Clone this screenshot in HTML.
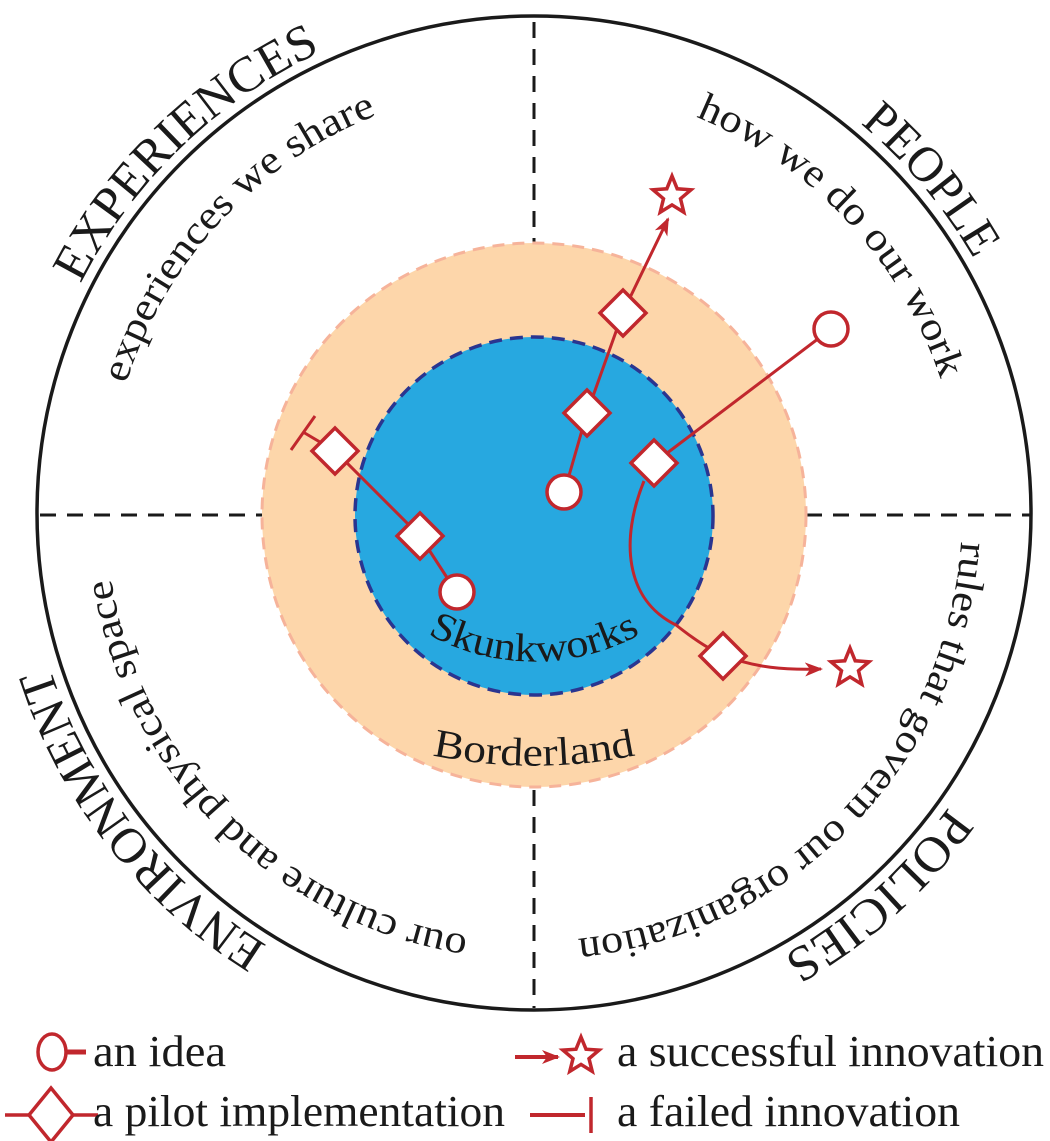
<!DOCTYPE html>
<html><head><meta charset="utf-8"><style>
html,body{margin:0;padding:0;background:#fff;}
svg{display:block;}
text{font-family:"Liberation Serif",serif;fill:#1a1a1a;}
</style></head><body>
<svg width="1050" height="1141" viewBox="0 0 1050 1141" xmlns="http://www.w3.org/2000/svg">
<defs>
<marker id="ah" markerWidth="18" markerHeight="14" refX="16" refY="7" orient="auto" markerUnits="userSpaceOnUse">
<path d="M0,0 L18,7 L0,14 L5,7 Z" fill="#C1272D"/>
</marker>
<path id="pExp" d="M41.1,635.9 A508,508 0 0 1 674.0,24.7"/>
<path id="pExpS" d="M124.7,638.1 A428,428 0 0 1 630.3,96.0"/>
<path id="pPeo" d="M445.8,12.7 A508,508 0 0 1 1011.4,686.7"/>
<path id="pPeoS" d="M437.7,96.0 A428,428 0 0 1 943.3,638.1"/>
<path id="pPolS" d="M945.4,395.0 A428,428 0 0 1 430.5,928.3"/>
<path id="pPol" d="M1030.9,407.4 A508,508 0 0 1 377.0,996.2"/>
<path id="pEnv" d="M604.7,1016.1 A508,508 0 0 1 63.0,322.7"/>
<path id="pEnvS" d="M644.8,926.4 A428,428 0 0 1 120.6,402.2"/>
<path id="pSk" d="M354,568 A220,220 0 0 0 714,568"/>
<path id="pBo" d="M323,719 A500,500 0 0 0 745,719"/>
</defs>

<circle cx="534" cy="513" r="497" fill="none" stroke="#1a1a1a" stroke-width="3.5"/>
<g stroke="#1a1a1a" stroke-width="3" stroke-dasharray="16,11">
<line x1="534" y1="22" x2="534" y2="243"/>
<line x1="534" y1="790" x2="534" y2="1008"/>
<line x1="40" y1="515" x2="262" y2="515"/>
<line x1="806" y1="515" x2="1030" y2="515"/>
</g>

<circle cx="534" cy="515" r="272" fill="#FDD6AA" stroke="#F6B39A" stroke-width="3" stroke-dasharray="12,8"/>
<circle cx="534" cy="516" r="179" fill="#27A8E0" stroke="#2A3590" stroke-width="3.5" stroke-dasharray="13,8"/>

<text font-size="50"><textPath href="#pExp" startOffset="50%" text-anchor="middle" textLength="340" lengthAdjust="spacingAndGlyphs">EXPERIENCES</textPath></text>
<text font-size="40"><textPath href="#pExpS" startOffset="50%" text-anchor="middle" textLength="380" lengthAdjust="spacingAndGlyphs">experiences we share</textPath></text>
<text font-size="50"><textPath href="#pPeo" startOffset="50%" text-anchor="middle" textLength="178" lengthAdjust="spacingAndGlyphs">PEOPLE</textPath></text>
<text font-size="40"><textPath href="#pPeoS" startOffset="50%" text-anchor="middle" textLength="370" lengthAdjust="spacingAndGlyphs">how we do our work</textPath></text>
<text font-size="40"><textPath href="#pPolS" startOffset="50%" text-anchor="middle" textLength="600" lengthAdjust="spacingAndGlyphs">rules that govern our organization</textPath></text>
<text font-size="50"><textPath href="#pPol" startOffset="50%" text-anchor="middle" textLength="225" lengthAdjust="spacingAndGlyphs">POLICIES</textPath></text>
<text font-size="50"><textPath href="#pEnv" startOffset="50%" text-anchor="middle" textLength="360" lengthAdjust="spacingAndGlyphs">ENVIRONMENT</textPath></text>
<text font-size="40"><textPath href="#pEnvS" startOffset="50%" text-anchor="middle" textLength="540" lengthAdjust="spacingAndGlyphs">our culture and physical space</textPath></text>
<text font-size="40"><textPath href="#pSk" startOffset="50%" text-anchor="middle" textLength="222" lengthAdjust="spacingAndGlyphs">Skunkworks</textPath></text>
<text font-size="40"><textPath href="#pBo" startOffset="50%" text-anchor="middle" textLength="205" lengthAdjust="spacingAndGlyphs">Borderland</textPath></text>

<g stroke="#C1272D" stroke-width="3" fill="none">
<polyline points="564,493 587,413 623,312 668,219" marker-end="url(#ah)"/>
<line x1="831" y1="329" x2="654" y2="463"/>
<path d="M644,481 C620,540 625,600 676,625 C695,640 710,650 723,655"/>
<path d="M723,655 C755,668 785,670 821,669" marker-end="url(#ah)"/>
<polyline points="457,593 420,536 335,451 303,432"/>
<line x1="291" y1="450" x2="315" y2="416"/>
</g>
<g stroke="#C1272D" stroke-width="3.5" fill="#fff">
<circle cx="564" cy="492" r="17"/>
<circle cx="831" cy="329" r="17"/>
<circle cx="457" cy="592" r="17"/>
<polygon transform="translate(587,413)" points="0,-23 23,0 0,23 -23,0"/>
<polygon transform="translate(623,313)" points="0,-23 23,0 0,23 -23,0"/>
<polygon transform="translate(654,463)" points="0,-23 23,0 0,23 -23,0"/>
<polygon transform="translate(723,656)" points="0,-23 23,0 0,23 -23,0"/>
<polygon transform="translate(420,536)" points="0,-23 23,0 0,23 -23,0"/>
<polygon transform="translate(335,451)" points="0,-23 23,0 0,23 -23,0"/>
<polygon transform="translate(672,196)" points="0,-20 5.2,-7.2 19,-6.2 8.5,2.7 11.8,16.2 0,8.9 -11.8,16.2 -8.5,2.7 -19,-6.2 -5.2,-7.2"/>
<polygon transform="translate(850,668)" points="0,-20 5.2,-7.2 19,-6.2 8.5,2.7 11.8,16.2 0,8.9 -11.8,16.2 -8.5,2.7 -19,-6.2 -5.2,-7.2"/>
</g>

<g stroke="#C1272D" stroke-width="3.5" fill="#fff">
<line x1="66" y1="1052" x2="86" y2="1052" stroke-width="5"/>
<ellipse cx="52" cy="1052" rx="14" ry="18"/>
<line x1="5" y1="1115" x2="98" y2="1115"/>
<polygon points="51,1088 73,1115 51,1142 29,1115"/>
<line x1="515" y1="1057" x2="558" y2="1057" stroke-width="4" marker-end="url(#ah)"/>
<polygon transform="translate(581,1056)" points="0,-19 5,-6.8 18.1,-5.9 8,2.6 11.2,15.4 0,8.4 -11.2,15.4 -8,2.6 -18.1,-5.9 -5,-6.8"/>
<line x1="530" y1="1115" x2="585" y2="1115" stroke-width="4"/>
<line x1="591" y1="1097" x2="591" y2="1133"/>
</g>
<g font-size="44">
<text x="93" y="1066" textLength="133" lengthAdjust="spacingAndGlyphs">an idea</text>
<text x="617" y="1066" textLength="427" lengthAdjust="spacingAndGlyphs">a successful innovation</text>
<text x="93" y="1126" textLength="412" lengthAdjust="spacingAndGlyphs">a pilot implementation</text>
<text x="617" y="1126" textLength="343" lengthAdjust="spacingAndGlyphs">a failed innovation</text>
</g>
</svg>
</body></html>
